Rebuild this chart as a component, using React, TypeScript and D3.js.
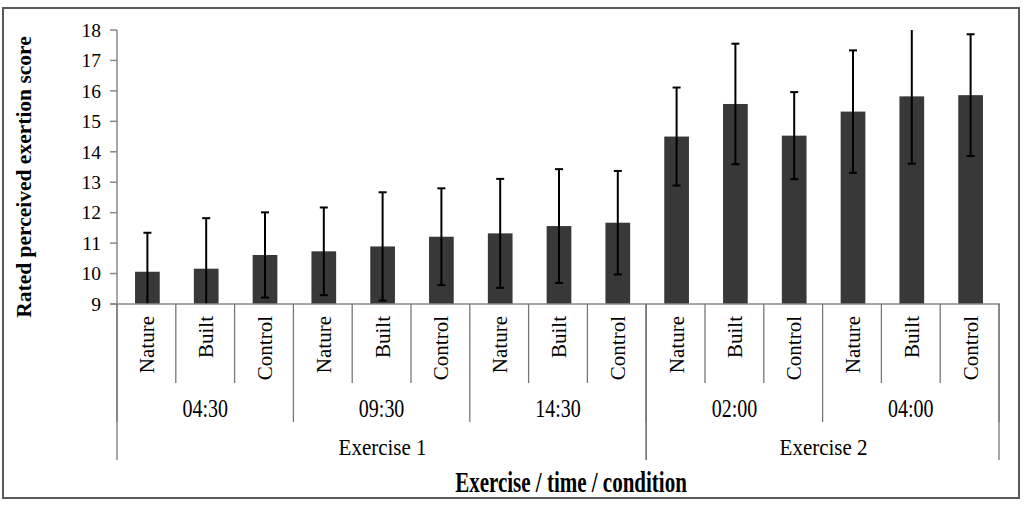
import * as d3 from "d3";

const conditions = ["Nature", "Built", "Control"];
const times = ["04:30", "09:30", "14:30", "02:00", "04:00"];
const exercises = ["Exercise 1", "Exercise 2"];
const timesPerExercise = [3, 2];

// mean rated perceived exertion, in order time x condition
const means = [10.06, 10.16, 10.61, 10.73, 10.89, 11.21, 11.32, 11.56, 11.67, 14.5, 15.57, 14.53, 15.32, 15.82, 15.86];
const errors = [1.28, 1.66, 1.4, 1.44, 1.78, 1.59, 1.79, 1.87, 1.7, 1.61, 1.98, 1.43, 2.01, 2.21, 2.0];

const yTicks = d3.range(9, 19);

const W = 1024;
const H = 506;
const margin = { top: 30, right: 24, bottom: 202, left: 118 };
const FONT = "'Liberation Serif', 'Times New Roman', serif";

export default function App() {
  const rows = times.flatMap((t, ti) =>
    conditions.map((c, ci) => {
      const i = ti * conditions.length + ci;
      return { key: `${t}-${c}`, time: t, cond: c, mean: means[i], err: errors[i] };
    })
  );

  const x = d3.scaleBand().domain(rows.map(r => r.key)).range([margin.left, W - margin.right]).padding(0);
  const y = d3.scaleLinear().domain([9, 18]).range([H - margin.bottom, margin.top]);
  const step = x.step();
  const barW = step * 0.42;
  const base = y(9);
  const capHalf = 4;
  const [y0, y1] = y.domain();

  const catLineEnd = base + 79;
  const timeLineEnd = base + 118;
  const exLineEnd = base + 156;

  // group boundaries
  const timeStart = (ti: number) => margin.left + ti * conditions.length * step;
  let acc = 0;
  const exGroups = exercises.map((e, i) => {
    const start = acc;
    acc += timesPerExercise[i];
    return { name: e, x0: timeStart(start), x1: timeStart(acc) };
  });

  return (
    <div style={{ position: "fixed", left: 0, top: 0 }}>
      <svg width={W} height={H} style={{ display: "block", background: "#fff" }} fontFamily={FONT}>
        <rect x={3} y={8} width={1016} height={490} fill="none" stroke="#5a5a5a" strokeWidth={2} />

        {/* bars */}
        {rows.map(r => (
          <rect
            key={r.key}
            x={x(r.key)! + (step - barW) / 2}
            y={y(r.mean)}
            width={barW}
            height={base - y(r.mean)}
            fill="#383838"
          />
        ))}

        {/* error bars */}
        {rows.map(r => {
          const cx = x(r.key)! + step / 2;
          const lo = r.mean - r.err;
          const hi = r.mean + r.err;
          return (
            <g key={`e-${r.key}`} stroke="#000" strokeWidth={2}>
              <line x1={cx} x2={cx} y1={y(Math.max(lo, y0))} y2={y(Math.min(hi, y1))} />
              {hi <= y1 && <line x1={cx - capHalf} x2={cx + capHalf} y1={y(hi)} y2={y(hi)} />}
              {lo >= y0 && <line x1={cx - capHalf} x2={cx + capHalf} y1={y(lo)} y2={y(lo)} />}
            </g>
          );
        })}

        {/* y axis */}
        <line x1={margin.left - 1} x2={margin.left - 1} y1={y(18)} y2={base + 1} stroke="#888" strokeWidth={1.5} />
        {yTicks.map(t => (
          <g key={t}>
            <line x1={margin.left - 8} x2={margin.left - 1} y1={y(t)} y2={y(t)} stroke="#888" strokeWidth={1.5} />
            <text x={margin.left - 17} y={y(t)} dy="0.35em" textAnchor="end" fontSize={19.5} fill="#000">
              {t}
            </text>
          </g>
        ))}
        <text
          transform={`translate(31,${(y(18) + base) / 2 + 10}) rotate(-90)`}
          textAnchor="middle"
          fontSize={21.5}
          fontWeight="bold"
          fill="#000"
        >
          Rated perceived exertion score
        </text>

        {/* baseline */}
        <line x1={margin.left - 8} x2={W - margin.right} y1={base} y2={base} stroke="#888" strokeWidth={1.5} />

        {/* category separators */}
        {d3.range(rows.length + 1).map(i => {
          const xx = margin.left - 1 + i * step;
          const end = i % 3 !== 0 ? catLineEnd : timeLineEnd;
          return <line key={`s-${i}`} x1={xx} x2={xx} y1={base} y2={end} stroke="#777" strokeWidth={1.3} />;
        })}
        {exGroups.flatMap(g => [g.x0, g.x1]).map((xx, i) => (
          <line key={`ex-${i}`} x1={xx - 1} x2={xx - 1} y1={base} y2={exLineEnd} stroke="#777" strokeWidth={1.3} />
        ))}

        {/* condition labels */}
        {rows.map(r => (
          <text
            key={`l-${r.key}`}
            transform={`translate(${x(r.key)! + step / 2},${base + 12}) rotate(-90)`}
            dy="0.33em"
            textAnchor="end"
            fontSize={21}
            fill="#000"
          >
            {r.cond}
          </text>
        ))}

        {/* time labels */}
        {times.map((t, ti) => (
          <text
            key={`t-${t}-${ti}`}
            transform={`translate(${timeStart(ti) + (conditions.length * step) / 2 - 1},${base + 113}) scale(1,1.25)`}
            textAnchor="middle"
            fontSize={20}
            fill="#000"
          >
            {t}
          </text>
        ))}

        {/* exercise labels */}
        {exGroups.map(g => (
          <text
            key={g.name}
            transform={`translate(${(g.x0 + g.x1) / 2},${base + 151}) scale(1,1.12)`}
            textAnchor="middle"
            fontSize={21}
            fill="#000"
          >
            {g.name}
          </text>
        ))}

        <text
          transform={`translate(571,${base + 188}) scale(1,1.4)`}
          textAnchor="middle"
          fontSize={21}
          fontWeight="bold"
          fill="#000"
        >
          Exercise / time / condition
        </text>
      </svg>
    </div>
  );
}
